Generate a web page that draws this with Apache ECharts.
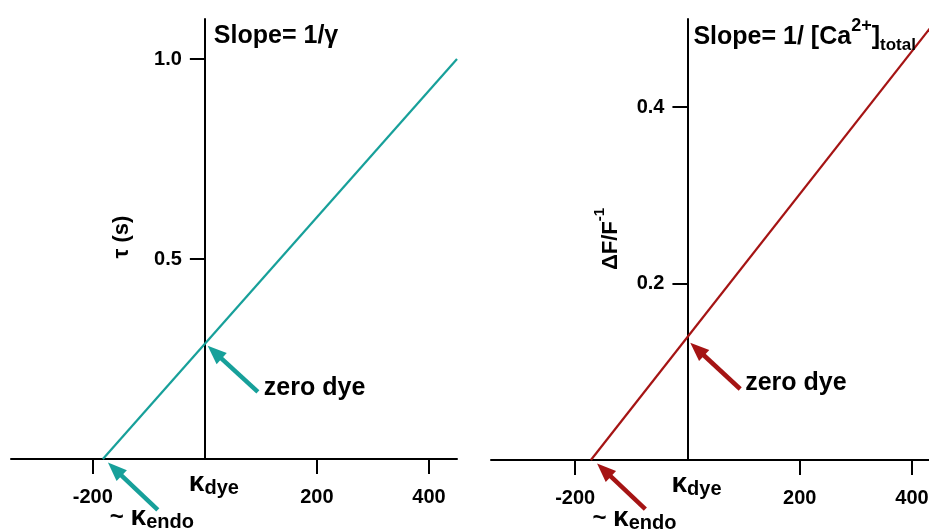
<!DOCTYPE html>
<html>
<head>
<meta charset="utf-8">
<script src="https://cdn.jsdelivr.net/npm/echarts@6/dist/echarts.min.js"></script>
<style>html,body{margin:0;padding:0;background:#fff}#c{width:929px;height:531px}</style>
</head>
<body>
<div id="c"></div>
<script>
// ---- data ----
var leftLineX = [-182, 450];
var leftLineY = [0, 1.0];
var rightLineX = [-172, 445];
var rightLineY = [0, 0.5];
var xTickValues = [-200, 200, 400];
var leftYTickValues = [0.5, 1.0];
var rightYTickValues = [0.2, 0.4];

// ---- annotations (data coordinates) ----
var leftArrows = [ {tip:[5, 0.283], tail:[94.6, 0.168]}, {tip:[-173, -0.009], tail:[-84, -0.127]} ];
var rightArrows = [ {tip:[5, 0.133], tail:[94, 0.0805]}, {tip:[-161, -0.004], tail:[-75, -0.0556]} ];

var TEAL = '#17a09a', RED = '#a51414';
var FONT = '"Liberation Sans", Arial, Helvetica, sans-serif';

var chart = echarts.init(document.getElementById('c'));

function xAxisCfg(idx, min, max) {
  return {
    type: 'value', gridIndex: idx, min: min, max: max,
    splitLine: {show: false},
    axisLine: {show: true, onZero: true, lineStyle: {color: '#000', width: 2}},
    axisTick: {show: true, length: 15, lineStyle: {color: '#000', width: 2}, customValues: xTickValues},
    axisLabel: {show: true, customValues: xTickValues, margin: 28, color: '#000', fontSize: 20, fontWeight: 'bold', fontFamily: FONT, showMinLabel: true, showMaxLabel: true}
  };
}
function yAxisCfg(idx, max, ticks) {
  return {
    type: 'value', gridIndex: idx, min: 0, max: max,
    splitLine: {show: false},
    axisLine: {show: true, onZero: true, lineStyle: {color: '#000', width: 2}},
    axisTick: {show: true, length: 15, lineStyle: {color: '#000', width: 2}, customValues: ticks},
    axisLabel: {show: false}
  };
}
function pairs(xs, ys) { return xs.map(function (x, i) { return [x, ys[i]]; }); }

chart.setOption({
  animation: false,
  backgroundColor: '#fff',
  grid: [
    {left: 11, top: 19, width: 446, height: 440, outerBoundsMode: 'none', containLabel: false},
    {left: 491, top: 19, width: 449, height: 441, outerBoundsMode: 'none', containLabel: false}
  ],
  xAxis: [xAxisCfg(0, -346, 450), xAxisCfg(1, -350, 450)],
  yAxis: [yAxisCfg(0, 1.1, leftYTickValues), yAxisCfg(1, 0.5, rightYTickValues)],
  series: [
    {type: 'line', xAxisIndex: 0, yAxisIndex: 0, data: pairs(leftLineX, leftLineY), showSymbol: false, symbol: 'none',
      lineStyle: {color: TEAL, width: 2.2}, clip: true},
    {type: 'line', xAxisIndex: 1, yAxisIndex: 1, data: pairs(rightLineX, rightLineY), showSymbol: false, symbol: 'none',
      lineStyle: {color: RED, width: 2.2}, clip: true}
  ]
});

function px(g, p) { return chart.convertToPixel({gridIndex: g}, p); }

function arrow(g, a, color) {
  var tip = px(g, a.tip), tail = px(g, a.tail);
  var dx = tip[0] - tail[0], dy = tip[1] - tail[1];
  var L = Math.sqrt(dx * dx + dy * dy); var ux = dx / L, uy = dy / L;
  var hl = 19, hw = 7.5;
  var bx = tip[0] - ux * hl, by = tip[1] - uy * hl;
  return [
    {type: 'line', shape: {x1: tail[0], y1: tail[1], x2: bx + ux * 2, y2: by + uy * 2}, style: {stroke: color, lineWidth: 4.5}, z: 10},
    {type: 'polygon', shape: {points: [[tip[0], tip[1]], [bx - uy * hw, by + ux * hw], [bx + uy * hw, by - ux * hw]]}, style: {fill: color}, z: 10}
  ];
}

function txt(x, y, rich, text, extra) {
  var o = {type: 'text', x: x, y: y, z: 20, style: {text: text, rich: rich, fill: '#000', font: 'bold 20px ' + FONT, verticalAlign: 'middle'}};
  if (extra) for (var k in extra) o[k] = extra[k];
  return o;
}

var B = function (sz, extra) { var s = {fontSize: sz, fontWeight: 'bold', fontFamily: FONT, color: '#000'}; if (extra) for (var k in extra) s[k] = extra[k]; return s; };

var g = [];
g = g.concat(arrow(0, leftArrows[0], TEAL), arrow(0, leftArrows[1], TEAL), arrow(1, rightArrows[0], RED), arrow(1, rightArrows[1], RED));

// y tick labels (follow the y axis that sits at x = 0)
[[0, leftYTickValues], [1, rightYTickValues]].forEach(function (e) {
  e[1].forEach(function (v) {
    var p = px(e[0], [0, v]);
    g.push({type: 'text', x: p[0] - 23, y: p[1], z: 20,
      style: {text: v.toFixed(1), fill: '#000', font: 'bold 20px ' + FONT, align: 'right', verticalAlign: 'middle'}});
  });
});

var o0 = px(0, [0, 0]), o1 = px(1, [0, 0]);
var kdyeRich = {k: B(28, {lineHeight: 30, verticalAlign: 'middle'}), s: B(20, {lineHeight: 30, verticalAlign: 'bottom'})};
var kendoRich = {t: B(24, {lineHeight: 30, verticalAlign: 'middle'}), k: B(28, {lineHeight: 30, verticalAlign: 'middle'}), s: B(20, {lineHeight: 30, verticalAlign: 'bottom'})};
var zeroRich = {z: B(25)};

[[0, o0], [1, o1]].forEach(function (e) {
  var o = e[1];
  g.push(txt(o[0] - 16, o[1] + 24, kdyeRich, '{k|κ}{s|dye}'));
  g.push(txt(o[0] - 95, o[1] + 58, kendoRich, '{t|~ }{k|κ}{s|endo}'));
});
var z0 = px(0, leftArrows[0].tail), z1 = px(1, rightArrows[0].tail);
g.push(txt(z0[0] + 6, z0[1] - 4, zeroRich, '{z|zero dye}'));
g.push(txt(z1[0] + 5, z1[1] - 6, zeroRich, '{z|zero dye}'));

// slope titles
g.push(txt(o0[0] + 9, 36, {m: B(25)}, '{m|Slope= 1/γ}'));
g.push(txt(o1[0] + 6, 37, {m: B(25, {lineHeight: 40, verticalAlign: 'middle'}), p: B(18, {lineHeight: 40, verticalAlign: 'top'}), s: B(17, {lineHeight: 40, verticalAlign: 'bottom', padding: [0, 0, 3, 0]})},
  '{m|Slope= 1/ [Ca}{p|2+}{m|]}{s|total}'));

// y axis names (rotated)
g.push({type: 'text', x: 122, y: 237, z: 20, rotation: Math.PI / 2,
  style: {text: '{m|τ (s)}', rich: {m: B(22)}, align: 'center', verticalAlign: 'middle'}});
g.push({type: 'text', x: 607, y: 239, z: 20, rotation: Math.PI / 2,
  style: {text: '{m|ΔF/F}{p|-1}', rich: {m: B(22, {lineHeight: 30, verticalAlign: 'bottom'}), p: B(15, {lineHeight: 30, verticalAlign: 'top'})}, align: 'center', verticalAlign: 'middle'}});

chart.setOption({graphic: {elements: g}});
</script>
</body>
</html>
